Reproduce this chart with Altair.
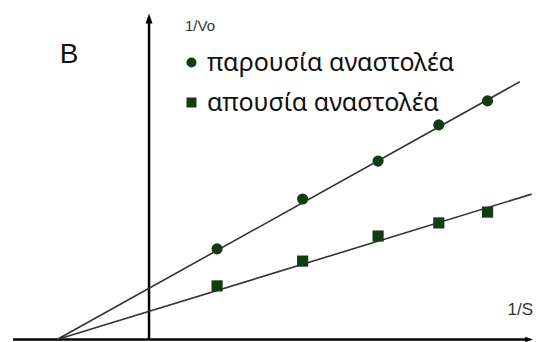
import altair as alt
import pandas as pd

# ---- data (1/S in arbitrary units, 1/Vo in arbitrary units) ----
inv_s = [0.74, 1.67, 2.49, 3.15, 3.68]
inv_v_with = [3.18, 4.93, 6.26, 7.53, 8.37]      # παρουσία αναστολέα (circles)
inv_v_without = [1.88, 2.75, 3.63, 4.09, 4.47]   # απουσία αναστολέα (squares)

series_names = ["παρουσία αναστολέα", "απουσία αναστολέα"]

# fitted lines: start at common x-intercept (-1/Km), end beyond last point
line_x_start = [-1.0, -1.0]
line_y_start = [0.0, 0.0]
line_x_end = [4.03, 4.16]
line_y_end = [9.04, 5.10]

# axis extents (data units)
x_dom = [-1.533, 4.185]
y_dom = [-0.088, 11.63]
x_axis_span = [-1.478, 4.12]
x_arrow_tip = 4.174
y_axis_top = 11.44

W, H = 526, 334
GREEN = "#143c14"

pts = pd.DataFrame({
    "x": inv_s + inv_s,
    "y": inv_v_with + inv_v_without,
    "series": [series_names[0]] * len(inv_s) + [series_names[1]] * len(inv_s),
})
lines = pd.DataFrame({
    "x": line_x_start + line_x_end,
    "y": line_y_start + line_y_end,
    "series": series_names + series_names,
})

xs = alt.Scale(domain=x_dom, nice=False, zero=False)
ys = alt.Scale(domain=y_dom, nice=False, zero=False)

line_layer = alt.Chart(lines).mark_line(color="#333333", strokeWidth=1.6).encode(
    x=alt.X("x:Q", scale=xs, axis=None),
    y=alt.Y("y:Q", scale=ys, axis=None),
    detail="series:N",
)

point_layer = alt.Chart(pts).mark_point(filled=True, opacity=1, color=GREEN, size=125).encode(
    x=alt.X("x:Q", scale=xs, axis=None),
    y=alt.Y("y:Q", scale=ys, axis=None),
    shape=alt.Shape(
        "series:N",
        scale=alt.Scale(domain=series_names, range=["circle", "square"]),
        legend=alt.Legend(
            title=None, orient="none", legendX=171, legendY=42, padding=0,
            symbolSize=100, symbolFillColor=GREEN, symbolStrokeColor=GREEN,
            labelFont="Noto Sans", labelFontSize=25, labelColor="#111111",
            labelOffset=3, rowPadding=14, labelLimit=400,
        ),
    ),
)

axes_df = pd.DataFrame({"x1": [x_axis_span[0]], "x2": [x_axis_span[1]], "y0": [0.0],
                        "ytop": [y_axis_top - 0.2], "x0": [0.0]})
x_axis = alt.Chart(axes_df).mark_rule(color="black", strokeWidth=2.5).encode(
    x=alt.X("x1:Q", scale=xs, axis=None), x2="x2:Q", y=alt.Y("y0:Q", scale=ys, axis=None))
y_axis = alt.Chart(axes_df).mark_rule(color="black", strokeWidth=2.5).encode(
    x=alt.X("x0:Q", scale=xs, axis=None), y=alt.Y("y0:Q", scale=ys, axis=None), y2="ytop:Q")

arrow_up = alt.Chart(pd.DataFrame({"x": [0.0], "y": [y_axis_top]})).mark_point(
    shape="M0,0L0.7,2L-0.7,2Z", filled=True, color="black", opacity=1, size=100).encode(
    x=alt.X("x:Q", scale=xs, axis=None), y=alt.Y("y:Q", scale=ys, axis=None))
arrow_right = alt.Chart(pd.DataFrame({"x": [x_arrow_tip], "y": [0.0]})).mark_point(
    shape="M0,0L-2,-0.7L-2,0.7Z", filled=True, color="black", opacity=1, size=60).encode(
    x=alt.X("x:Q", scale=xs, axis=None), y=alt.Y("y:Q", scale=ys, axis=None))

def label(text, x, y, size, align, font="Liberation Sans", color="#222222"):
    return alt.Chart(pd.DataFrame({"t": [text]})).mark_text(
        align=align, baseline="middle", fontSize=size, font=font, color=color).encode(
        text="t:N", x=alt.value(x), y=alt.value(y))

lab_b = label("B", 61, 47, 28, "center", color="#111111")
lab_v = label("1/Vo", 177, 18, 15, "left", color="#333333")
lab_s = label("1/S", 525, 302, 17, "right", color="#333333")

chart = alt.layer(
    x_axis, y_axis, arrow_up, arrow_right, line_layer, point_layer, lab_b, lab_v, lab_s
).properties(
    width=W, height=H, padding=0, autosize=alt.AutoSizeParams(type="none"),
    background="white",
).configure_view(stroke=None)

chart.save("out.html", embed_options={"renderer": "svg", "actions": False})
